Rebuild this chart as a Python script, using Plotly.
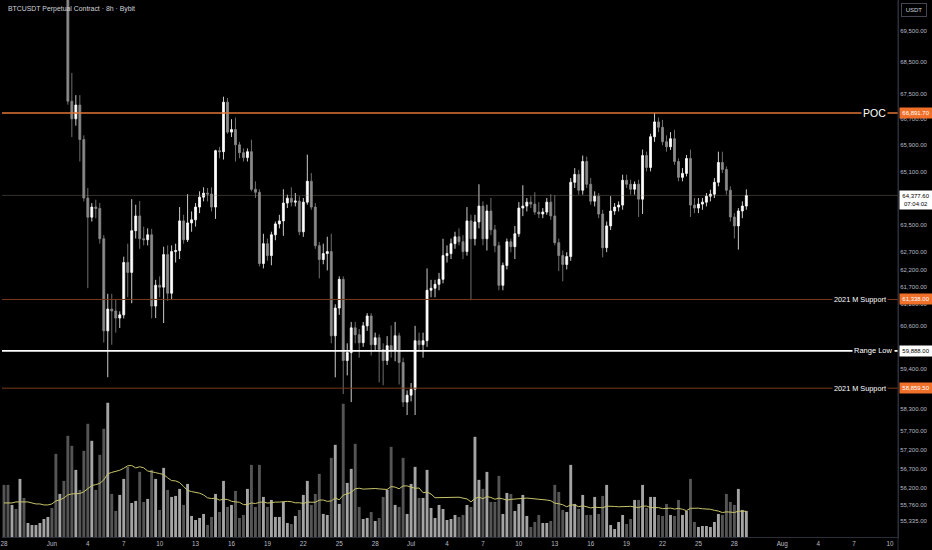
import numpy as np
import pandas as pd
import plotly.graph_objects as go

# ---------------- data (8h candles, BTCUSDT Perpetual, Bybit) ----------------
start_time = "2024-05-28 00:00"

opens = [71300,71100,70900,71050,70950,71250,71000,71100,71200,71250,71300,71400,71500,71300,70850,71050,
70750,67260,66710,67140,66070,64300,63730,64030,63990,63095,60450,61065,61010,60810,60900,62400,62115,63330,
63765,63094,63065,63210,61150,61744,61690,62630,61516,62718,62746,63620,63065,63560,63650,64030,64325,64445,
64420,64030,65730,65700,67230,66300,66380,65910,65670,65520,65700,64563,64470,62372,62950,62602,63210,63531,
63619,64148,64295,64177,64207,63298,64177,64801,64030,62891,62487,62660,62718,60311,61093,61914,59622,59842,
60534,60340,60117,60590,60869,60062,60256,59924,59622,60034,59897,60311,59567,58480,58669,58830,60173,60062,
60173,61601,61658,61771,61914,62602,62660,62950,63152,63006,62718,63619,63094,63590,64059,63094,63912,63356,
62891,61743,62316,63006,62862,63240,64000,64059,64177,64118,63882,63824,63882,64177,63765,62978,62602,62344,
62573,64771,65010,64533,65400,64712,64207,64354,63824,62833,63472,63912,64030,64089,64831,64712,64563,64712,
64266,65582,65220,66158,66616,66450,66005,65850,66097,65400,64920,65040,65491,64089,64000,64118,64177,64354,
64414,64771,65370,65160,64533,63736,63472,63912,64059]

highs = [71450,71250,71150,71200,71400,71350,71150,71250,71300,71350,71450,71550,71600,71400,71150,71150,
70900,68150,67450,67450,66200,64600,64150,64250,64150,63200,61500,61500,61350,61000,62570,62950,64266,64100,
64210,63450,63400,63385,61900,62000,62860,62900,62900,62950,64030,63800,64415,63900,64150,64500,64620,64600,
64620,65760,65850,67400,67360,66700,66750,66000,65800,65800,66066,64800,64560,63240,63100,63300,63600,63800,
64563,64400,64620,64450,64350,64300,65610,65050,64150,63000,62950,63152,63240,61200,62000,62000,60100,60700,
60700,60500,60700,60950,60950,60400,60350,60100,60300,60600,60700,60400,59700,58800,59000,60590,60400,60400,
62229,61900,61900,62100,63094,62900,63100,63300,63400,63200,64030,63800,63800,64712,64200,64100,64300,63500,
63000,62400,63100,63100,63470,64177,64682,64300,64350,64475,64177,64000,64300,64413,64383,63100,62750,62700,
64900,65200,65150,65582,65550,64900,64500,64450,63950,63600,64354,64150,64200,65000,65000,64850,64800,64850,
65763,65700,66250,66893,66750,66677,66200,66300,66371,65500,65200,65600,65763,64300,64300,64300,64450,64550,
64900,65700,65700,65250,64650,63850,64000,64200,64560]

lows = [71050,70800,70750,70850,70850,70950,70900,71000,71100,71150,71200,71300,71250,70700,70700,70650,
67150,66150,66500,65400,64200,61660,63600,63700,62950,60120,59160,60060,60400,60530,60800,61400,61230,63100,
62800,62900,62900,60800,60810,61400,60670,61300,61350,62400,62500,62950,63000,63300,63450,63850,64200,64200,
63900,63680,65500,65460,66250,66150,65400,65500,65400,65400,64500,64300,62290,62229,62450,62320,63050,63400,
63180,64000,64050,64050,63200,63150,64100,63950,62800,61943,62350,62172,60100,59157,60900,58700,59210,58480,
60100,59700,60000,60450,59760,59900,59020,58940,59500,59700,59600,58960,58350,58130,58500,58130,59900,59700,
60000,61400,61400,61600,61800,62400,62500,62800,62900,62500,62600,61318,62900,63400,62900,62750,63200,62700,
61600,61600,62200,62700,62500,63150,63760,63900,64000,63800,63700,63700,63800,63650,62900,62150,61857,62200,
62450,64600,64400,64400,64600,64100,64050,63700,62550,62700,63350,63800,63900,63950,64600,64400,64400,63736,
63824,65100,65100,66000,66300,65900,65700,65750,65300,64800,64800,64950,63736,63850,63850,63950,64050,64200,
64300,64650,65050,64400,63600,63100,62775,63700,63950]

closes = [71100,70900,71050,70950,71250,71000,71100,71200,71250,71300,71400,71500,71300,70850,71050,70750,
67260,66710,67140,66070,64300,63730,64030,63990,63095,60450,61065,61010,60810,60900,62400,62115,63330,63765,
63094,63065,63210,61150,61744,61690,62630,61516,62718,62746,63620,63065,63560,63650,64030,64325,64445,64420,
64030,65730,65700,67230,66300,66380,65910,65670,65520,65700,64563,64470,62372,62950,62602,63210,63531,63619,
64148,64295,64177,64207,63298,64177,64801,64030,62891,62487,62660,62718,60311,61093,61914,59622,59842,60534,
60340,60117,60590,60869,60062,60256,59924,59622,60034,59897,60311,59567,58480,58669,58830,60173,60062,60173,
61601,61658,61771,61914,62602,62660,62950,63152,63006,62718,63619,63094,63590,64059,63094,63912,63356,62891,
61743,62316,63006,62862,63240,64000,64059,64177,64118,63882,63824,63882,64177,63765,62978,62602,62344,62573,
64771,65010,64533,65400,64712,64207,64354,63824,62833,63472,63912,64030,64089,64831,64712,64563,64712,64266,
65582,65220,66158,66616,66450,66005,65850,66097,65400,64920,65040,65491,64089,64000,64118,64177,64354,64414,
64771,65370,65160,64533,63736,63472,63912,64059,64377.6]

# volume per candle, thousands of BTC
volume_k = [5.2,5.2,3.2,2.8,5.8,3.9,1.4,1.2,1.2,1.4,1.8,2.0,2.9,8.3,4.3,5.6,10.1,9.1,6.7,4.7,
8.6,11.3,9.6,4.7,8.2,10.8,13.4,4.3,2.6,4.2,5.8,7.0,3.4,3.6,6.5,3.5,3.8,6.7,5.8,2.7,
6.9,4.7,4.0,4.1,4.8,3.2,5.3,2.1,1.7,1.9,2.3,1.2,2.0,4.3,2.5,5.6,3.0,3.2,4.6,1.9,
2.2,4.8,7.2,3.0,7.2,4.0,3.0,3.7,2.0,2.0,3.5,1.4,1.3,2.1,2.7,4.2,5.6,3.2,4.3,6.3,
2.3,2.2,7.9,9.2,3.3,13.3,5.4,6.8,9.3,3.0,1.8,1.9,2.5,1.6,1.9,4.0,4.7,9.0,3.2,3.0,
7.9,2.3,5.3,7.0,3.9,3.9,6.7,2.9,1.9,3.2,2.8,1.7,1.8,2.2,2.0,2.2,3.2,3.0,10.0,5.7,
4.8,6.5,3.5,3.5,6.1,2.3,4.4,4.3,2.6,3.3,4.2,2.1,1.0,1.5,2.2,1.4,1.4,1.6,5.2,4.5,
2.7,2.5,7.2,3.3,2.8,4.2,2.2,2.2,4.0,2.3,4.1,5.2,1.2,0.8,1.5,2.2,1.3,1.8,3.7,3.7,
5.2,2.9,4.0,4.0,2.2,2.1,3.3,2.2,2.1,3.7,2.2,2.6,5.8,1.5,1.0,1.1,1.1,1.0,1.5,2.3,
2.2,4.3,3.5,3.2,4.8,2.7,2.6]

# volume MA(20) values for the first candles (its earlier history is off-chart)
vol_ma_lead = [3.4,3.4,3.4,3.5,3.5,3.5,3.5,3.4,3.3,3.3,3.2,3.2,3.3,3.6,3.7,3.9,4.2,4.3,4.3]

# horizontal levels
poc = 66891.70
support_hi = 61338.00
range_low = 59888.00
support_lo = 58859.50
last_price = 64377.60
countdown = "07:04:02"

price_ticks = [69500,68500,67500,66700,65900,65100,63500,62700,62200,61700,61200,60600,
               59400,58300,57700,57200,56700,56200,55760,55335]
date_ticks = ["2024-05-28","2024-06-01","2024-06-04","2024-06-07","2024-06-10","2024-06-13","2024-06-16",
              "2024-06-19","2024-06-22","2024-06-25","2024-06-28","2024-07-01","2024-07-04","2024-07-07",
              "2024-07-10","2024-07-13","2024-07-16","2024-07-19","2024-07-22","2024-07-25","2024-07-28",
              "2024-08-01","2024-08-04","2024-08-07","2024-08-10"]
date_labels = ["28","Jun","4","7","10","13","16","19","22","25","28","Jul","4","7","10","13","16","19",
               "22","25","28","Aug","4","7","10"]

# ---------------- figure ----------------
times = pd.date_range(start_time, periods=len(opens), freq="8h")
is_up = [c >= o for o, c in zip(opens, closes)]
vol_colors = ["#a4a4a4" if u else "#555555" for u in is_up]

vol_ma = pd.Series(volume_k).rolling(20).mean().to_numpy()
vol_ma[:len(vol_ma_lead)] = vol_ma_lead

FONT = "Liberation Sans, Arial, sans-serif"
TICK = "#b8bcc4"
ORANGE_BOX = "#f0702a"
bar_ms = 8 * 3600 * 1000

fig = go.Figure()
fig.add_trace(go.Bar(x=times, y=volume_k, yaxis="y", width=bar_ms * 0.72,
                     marker=dict(color=vol_colors, line=dict(width=0)), hoverinfo="skip"))
fig.add_trace(go.Scatter(x=times, y=vol_ma, yaxis="y", mode="lines",
                         line=dict(color="#c8c46a", width=1), hoverinfo="skip"))
fig.add_trace(go.Candlestick(x=times, open=opens, high=highs, low=lows, close=closes, yaxis="y2",
                             increasing=dict(line=dict(color="#ffffff", width=0.8), fillcolor="#ffffff"),
                             decreasing=dict(line=dict(color="#8a8a8a", width=0.8), fillcolor="#8a8a8a"),
                             whiskerwidth=0, hoverinfo="skip"))

y_lo, y_hi = 54925, 70500
fig.update_layout(
    width=932, height=550,
    margin=dict(l=0, r=34, t=0, b=13, pad=0),
    paper_bgcolor="#000000", plot_bgcolor="#000000",
    showlegend=False, boxgap=0.3,
    font=dict(family=FONT, color=TICK),
    xaxis=dict(type="date", range=["2024-05-27 20:00", "2024-08-10 16:00"],
               tickmode="array", tickvals=date_ticks, ticktext=date_labels,
               tickfont=dict(size=6.3, color=TICK, family=FONT), ticks="", ticklabeloverflow="allow",
               showgrid=False, zeroline=False, showline=True, linecolor="#2a2e39", linewidth=1,
               rangeslider=dict(visible=False), fixedrange=True),
    yaxis=dict(range=[0, 53.6], visible=False, fixedrange=True),
    yaxis2=dict(type="log", range=[np.log10(y_lo), np.log10(y_hi)], overlaying="y", side="right",
                tickmode="array", tickvals=price_ticks, ticktext=[f"{v:,.2f}" for v in price_ticks],
                tickfont=dict(size=6, color=TICK, family=FONT), ticks="",
                showgrid=False, zeroline=False, showline=True, linecolor="#2a2e39", linewidth=1,
                fixedrange=True),
)

shapes = []
def hline(price, color, width, dash="solid"):
    shapes.append(dict(type="line", xref="paper", x0=0, x1=1, yref="y2", y0=price, y1=price,
                       line=dict(color=color, width=width, dash=dash), layer="above"))

hline(last_price, "rgba(150,140,130,0.35)", 1)
hline(poc, "#e07636", 1.4)
hline(support_hi, "#7a3a1a", 1)
hline(support_lo, "#7a3a1a", 1)
hline(range_low, "#ffffff", 1.6)
shapes.append(dict(type="line", xref="paper", x0=1, x1=1, yref="paper", y0=-13 / 537, y1=1,
                   line=dict(color="#2a2e39", width=1)))
fig.update_layout(shapes=shapes)

ann = []
def line_text(price, text, xpx, size):
    ann.append(dict(xref="paper", x=xpx / 898, yref="y2", y=np.log10(price), text=text, showarrow=False,
                    font=dict(size=size, color="#ffffff", family=FONT), bgcolor="#000000",
                    borderpad=1, xanchor="center", yanchor="middle"))

def axis_box(price, text, bg, fg, height=10, yanchor="middle", yshift=0):
    ann.append(dict(xref="paper", x=1, xshift=1, xanchor="left", yref="y2", y=np.log10(price),
                    yanchor=yanchor, yshift=yshift, text=text, showarrow=False, width=32, height=height,
                    align="center", bgcolor=bg, borderpad=0,
                    font=dict(size=6, color=fg, family=FONT)))

line_text(poc, "POC", 874.5, 10.5)
line_text(support_hi, "2021 M Support", 860, 7.3)
line_text(range_low, "Range Low", 873, 7.5)
line_text(support_lo, "2021 M Support", 860, 7.3)

axis_box(poc, f"{poc:,.2f}", ORANGE_BOX, "#ffffff")
axis_box(support_hi, f"{support_hi:,.2f}", ORANGE_BOX, "#ffffff")
axis_box(range_low, f"{range_low:,.2f}", "#ffffff", "#000000")
axis_box(support_lo, f"{support_lo:,.2f}", ORANGE_BOX, "#ffffff")
axis_box(last_price, f"{last_price:,.2f}<br>{countdown}", "#ffffff", "#000000",
         height=18, yanchor="top", yshift=5)

ann.append(dict(xref="paper", x=0, xshift=4, xanchor="left", yref="paper", y=1, yshift=-9,
                yanchor="middle", text="BTCUSDT Perpetual Contract · 8h · Bybit", showarrow=False,
                font=dict(size=6.9, color="#d1d4dc", family=FONT)))
ann.append(dict(xref="paper", x=1, xshift=3, xanchor="left", yref="paper", y=1, yshift=-3,
                yanchor="top", text="USDT", showarrow=False, width=24, height=12,
                bordercolor="#434651", borderwidth=1, borderpad=0,
                font=dict(size=6, color="#d1d4dc", family=FONT)))
fig.update_layout(annotations=ann)

fig.write_html("out.html", config={"displayModeBar": False, "staticPlot": True},
               post_script="document.body.style.margin='0';document.body.style.padding='0';"
                           "document.body.style.background='#000000';")
